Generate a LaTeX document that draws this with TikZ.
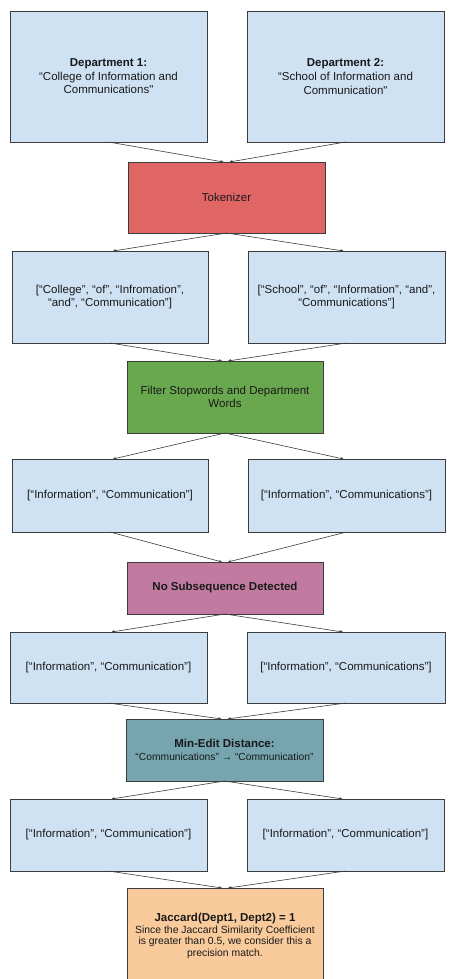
\documentclass[tikz,border=0pt]{standalone}
\usepackage{fontspec}
\setmainfont{Liberation Sans}
\newfontfamily\nq{Liberation Sans}[Ligatures=TeXOff]
\usetikzlibrary{arrows.meta}
\definecolor{lblue}{HTML}{CFE2F3}
\definecolor{cred}{HTML}{E06666}
\definecolor{cgreen}{HTML}{6AA84F}
\definecolor{cpink}{HTML}{C27BA0}
\definecolor{cteal}{HTML}{76A5AF}
\definecolor{corange}{HTML}{F9CB9C}
\definecolor{edge}{HTML}{3C3C3C}
\newcommand{\sq}{{\nq"}}
\tikzset{
  box/.style={draw=edge, line width=0.6pt, inner sep=2pt, outer sep=0pt, align=center,
    font=\fontsize{11.5}{13.6}\selectfont, text=black!90},
  bluebox/.style={box, fill=lblue},
  arr/.style={draw=edge, line width=0.6pt, -{Stealth[length=3.2pt,width=3pt]}}
}
\begin{document}
\begin{tikzpicture}[x=1pt,y=-1pt]
\useasboundingbox[fill=white] (0,0) rectangle (448,979);
% row 1
\node[bluebox, minimum width=197pt, minimum height=131pt] (d1) at (108.5,76.5)
  {\textbf{Department 1:}\\“College of Information and\\Communications\sq};
\node[bluebox, minimum width=197pt, minimum height=131pt] (d2) at (345.5,76.5)
  {\textbf{Department 2:}\\“School of Information and\\Communication\sq};
\node[box, fill=cred, minimum width=197pt, minimum height=71pt] (tok) at (226.5,197.5) {Tokenizer};
% row 2
\node[bluebox, minimum width=196pt, minimum height=92pt] (t1) at (110,297)
  {[“College”, “of”, “Infromation”,\\“and”, “Communication”]};
\node[bluebox, minimum width=197pt, minimum height=92pt] (t2) at (346.5,297)
  {[“School”, “of”, “Information”, “and”,\\“Communications”]};
\node[box, fill=cgreen, minimum width=196pt, minimum height=72pt] (filt) at (225,397)
  {Filter Stopwords and Department\\Words};
% row 3
\node[bluebox, minimum width=196pt, minimum height=73pt] (f1) at (110,495.5)
  {[“Information”, “Communication”]};
\node[bluebox, minimum width=197pt, minimum height=73pt] (f2) at (346.5,495.5)
  {[“Information”, “Communications”]};
\node[box, fill=cpink, minimum width=196pt, minimum height=52pt] (ns) at (225,588)
  {\textbf{No Subsequence Detected}};
% row 4
\node[bluebox, minimum width=197pt, minimum height=71pt] (n1) at (108.5,667.5)
  {[“Information”, “Communication”]};
\node[bluebox, minimum width=198pt, minimum height=71pt] (n2) at (346,667.5)
  {[“Information”, “Communications”]};
\node[box, fill=cteal, minimum width=197pt, minimum height=62pt, font=\fontsize{10.3}{12.6}\selectfont] (me) at (224.5,750)
  {{\fontsize{11.5}{13}\selectfont\textbf{Min-Edit Distance:}}\\“Communications” → “Communication”};
% row 5
\node[bluebox, minimum width=197pt, minimum height=72pt] (m1) at (108.5,835)
  {[“Information”, “Communication”]};
\node[bluebox, minimum width=197pt, minimum height=72pt] (m2) at (345.5,835)
  {[“Information”, “Communication”]};
\node[box, fill=corange, minimum width=196pt, minimum height=96pt, font=\fontsize{10.4}{11.6}\selectfont] (jac) at (225,936)
  {{\fontsize{11.5}{14}\selectfont\textbf{Jaccard(Dept1, Dept2) = 1}}\\Since the Jaccard Similarity Coefficient\\is greater than 0.5, we consider this a\\precision match.};
% connectors
\draw[arr] (d1.south) -- ([xshift=-3pt]tok.north);
\draw[arr] (d2.south) -- ([xshift=3pt]tok.north);
\draw[arr] (tok.south) -- ([xshift=3pt]t1.north);
\draw[arr] (tok.south) -- ([xshift=-3pt]t2.north);
\draw[arr] (t1.south) -- ([xshift=-3pt]filt.north);
\draw[arr] (t2.south) -- ([xshift=3pt]filt.north);
\draw[arr] (filt.south) -- ([xshift=3pt]f1.north);
\draw[arr] (filt.south) -- ([xshift=-3pt]f2.north);
\draw[arr] (f1.south) -- ([xshift=-3pt]ns.north);
\draw[arr] (f2.south) -- ([xshift=3pt]ns.north);
\draw[arr] (ns.south) -- ([xshift=3pt]n1.north);
\draw[arr] (ns.south) -- ([xshift=-3pt]n2.north);
\draw[arr] (n1.south) -- ([xshift=-3pt]me.north);
\draw[arr] (n2.south) -- ([xshift=3pt]me.north);
\draw[arr] (me.south) -- ([xshift=3pt]m1.north);
\draw[arr] (me.south) -- ([xshift=-3pt]m2.north);
\draw[arr] (m1.south) -- ([xshift=-3pt]jac.north);
\draw[arr] (m2.south) -- ([xshift=3pt]jac.north);
\end{tikzpicture}
\end{document}
